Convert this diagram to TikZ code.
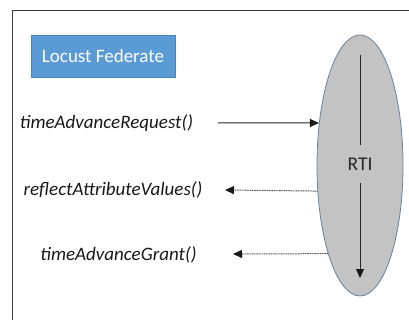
\documentclass[tikz,border=0pt]{standalone}
\usepackage{fontspec}
\setmainfont{Carlito}
\usetikzlibrary{shapes.geometric,arrows.meta}
\definecolor{fedblue}{HTML}{5B9BD5}
\definecolor{fedborder}{HTML}{4A86BF}
\definecolor{rtigray}{HTML}{C3C3C3}
\definecolor{rtiborder}{HTML}{6F8094}
\definecolor{framegray}{HTML}{3A3A3A}
\tikzset{
  fedbox/.style={rectangle, draw=fedborder, line width=0.6pt, fill=fedblue,
    minimum width=144pt, minimum height=42pt, inner sep=0pt,
    text=white, font=\fontsize{19}{21}\selectfont},
  rtiell/.style={ellipse, draw=rtiborder, line width=0.8pt, fill=rtigray,
    minimum width=86pt, minimum height=261pt, inner sep=0pt},
  rtilabel/.style={inner sep=0pt, minimum height=38pt, text=black!85,
    font=\fontsize{19.5}{21}\selectfont},
  call/.style={inner sep=0pt, text=black!90, font=\fontsize{19}{21}\selectfont\itshape},
  tip/.style={-{Triangle[length=9pt,width=8pt,color=black!90]}},
  solidarrow/.style={tip, line width=1pt, black!85},
  dotarrow/.style={tip, line width=1pt, black!70, dash pattern=on 1pt off 0.7pt},
}
\begin{document}
\begin{tikzpicture}[x=1pt,y=-1pt]
\useasboundingbox (0,0) rectangle (409,320);
\fill[white] (0,0) rectangle (409,320);
\draw[framegray, line width=1.3pt] (12.5,320) -- (12.5,10.5) -- (409,10.5);

\node[fedbox] (fed) at (103,56) {Locust Federate};

\node[rtiell] (rti) at (360,165.5) {};
\node[rtilabel] (rtitext) at (360,164) {RTI};
\coordinate (ltop) at (360,55);
\coordinate (lbot) at (360,278);
\draw[line width=1pt, black!85] (ltop) -- (rtitext.north);
\draw[solidarrow] (rtitext.south) -- (lbot);

\node[call] (req) at (106.5,123) {timeAdvanceRequest()};
\node[call] (refl) at (113,190) {reflectAttributeValues()};
\node[call] (grant) at (118.5,255) {timeAdvanceGrant()};

\coordinate (reqs) at (218,123);
\coordinate (refle) at (225,190);
\coordinate (grante) at (233,254);

\draw[solidarrow] (reqs) -- (rti.134);
\draw[dotarrow] (rti.211) -- (refle);
\draw[dotarrow] (rti.250) -- (grante);
\end{tikzpicture}
\end{document}
